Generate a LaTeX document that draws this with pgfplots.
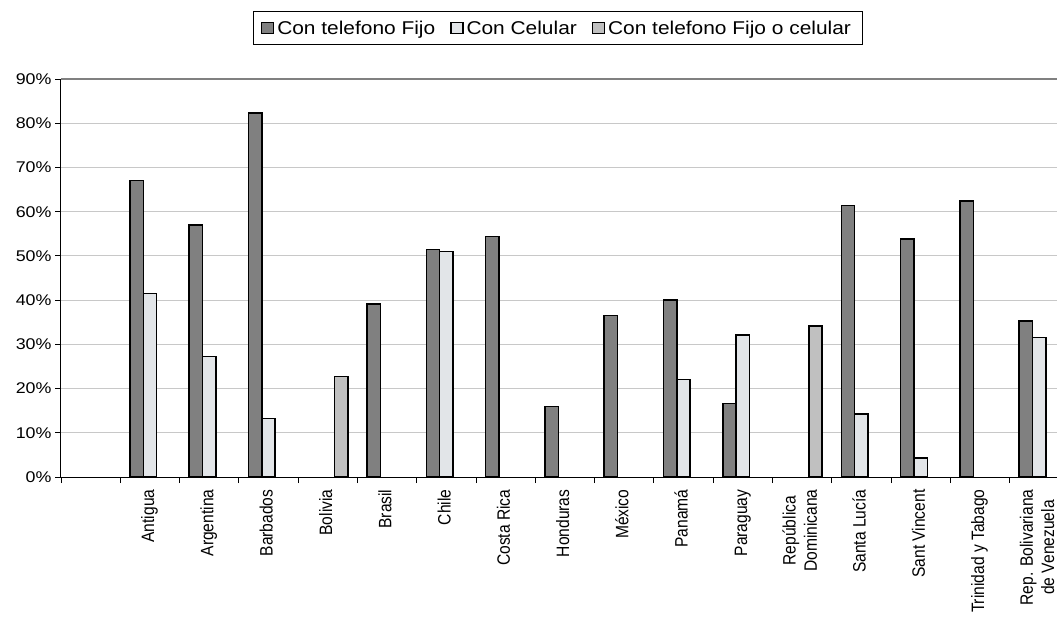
\documentclass[border=0pt]{standalone}
\usepackage{fontspec}
\setmainfont{Liberation Sans}
\usepackage{pgfplots}
\pgfplotsset{compat=1.18}
\definecolor{fijo}{HTML}{808080}
\definecolor{celu}{HTML}{E2E5E8}
\definecolor{ambos}{HTML}{C0C0C0}
\definecolor{gridc}{HTML}{C8C8C8}
\newcommand{\hs}[1]{\scalebox{1.15}[1]{#1}}
\newcommand{\ls}[1]{\scalebox{1.13}[1]{#1}}
\newcommand{\xl}[1]{\scalebox{1}[1.15]{\begin{tabular}{@{}c@{}}#1\end{tabular}}}
\pgfplotsset{myleg/.style={legend image code/.code={\draw[##1, line width=1.2pt] (0pt,-5.5pt) rectangle (12pt,5.5pt);}}}
\begin{document}
\begin{tikzpicture}[font=\fontsize{15.5}{18.6}\selectfont]
\path[use as bounding box] (-61pt,-139pt) rectangle (996pt,477pt);
\begin{axis}[
  at={(0,0)}, anchor=south west,
  scale only axis, width=996pt, height=398pt,
  ybar, bar width=0.225,
  xmin=-0.5, xmax=16.3, ymin=0, ymax=90,
  axis x line=bottom, axis y line=left,
  axis line style={-, black, line width=1pt},
  tick align=outside, major tick length=6pt,
  tick style={black, line width=0.8pt},
  ytick={0,10,...,80},
  yticklabels={\hs{0\%},\hs{10\%},\hs{20\%},\hs{30\%},\hs{40\%},\hs{50\%},\hs{60\%},\hs{70\%},\hs{80\%}},
  extra y ticks={90}, extra y tick labels={\hs{90\%}},
  extra y tick style={grid style={draw=fijo, line width=2pt}},
  ymajorgrids, grid style={draw=gridc, line width=1pt},
  yticklabel style={font=\fontsize{15.5}{18.6}\selectfont},
  xtick={-0.5,0.5,...,15.5}, xticklabels={},
  extra x ticks={1,2,...,16},
  extra x tick labels={\xl{Antigua},\xl{Argentina},\xl{Barbados},\xl{Bolivia},\xl{Brasil},\xl{Chile},\xl{Costa Rica},\xl{Honduras},\xl{México},\xl{Panamá},\xl{Paraguay},\xl{República\\Dominicana},\xl{Santa Lucía},\xl{Sant Vincent},\xl{Trinidad y Tabago},\xl{Rep. Bolivariana\\de Venezuela}},
  extra x tick style={major tick length=0pt, xticklabel style={yshift=-9pt, rotate=90, anchor=east, font=\fontsize{15.6}{18.4}\selectfont}},
  legend columns=3,
  legend style={at={(0.4985,1)}, anchor=south, yshift=34pt, draw=black, line width=0.8pt,
    font=\fontsize{18.5}{21}\selectfont,
    nodes={inner xsep=3pt, inner ysep=2pt},
    /tikz/every even column/.append style={column sep=12pt},
    inner xsep=8pt, inner ysep=7pt},
]
\addplot[fill=fijo, draw=black, line width=1.5pt, bar shift=-0.225, myleg]
  coordinates {(1,67.0) (2,57.0) (3,82.3) (5,39.1) (6,51.5) (7,54.4) (8,15.9) (9,36.5) (10,40.0) (11,16.6) (13,61.4) (14,53.8) (15,62.4) (16,35.3)};
\addlegendentry{\ls{Con telefono Fijo}}
\addplot[fill=celu, draw=black, line width=1.5pt, bar shift=0, myleg]
  coordinates {(1,41.5) (2,27.2) (3,13.2) (6,51.0) (10,22.1) (11,32.1) (13,14.2) (14,4.3) (16,31.5)};
\addlegendentry{\ls{Con Celular}}
\addplot[fill=ambos, draw=black, line width=1.5pt, bar shift=0.225, myleg]
  coordinates {(4,22.7) (12,34.1)};
\addlegendentry{\ls{Con telefono Fijo o celular}}
\end{axis}
\end{tikzpicture}
\end{document}
